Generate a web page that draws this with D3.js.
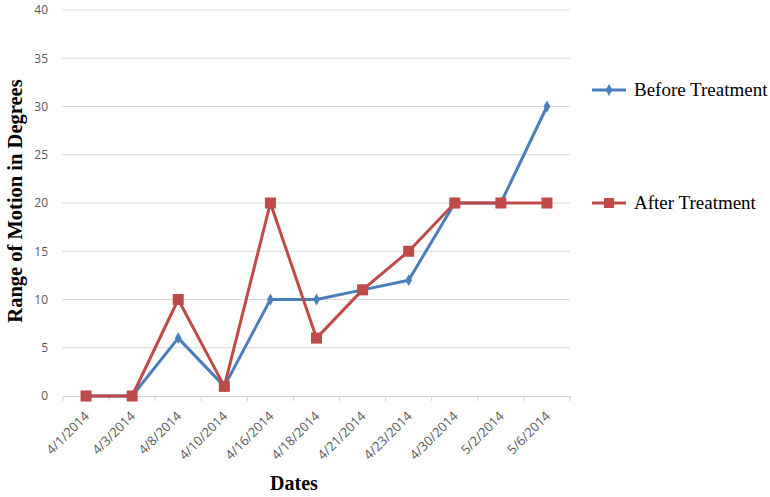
<!DOCTYPE html>
<html><head><meta charset="utf-8">
<script src="https://cdn.jsdelivr.net/npm/d3@7"></script>
<style>body{margin:0;background:#fff}</style>
</head><body>
<svg id="c" width="770" height="497"></svg>
<script>
const categories = ["4/1/2014","4/3/2014","4/8/2014","4/10/2014","4/16/2014","4/18/2014","4/21/2014","4/23/2014","4/30/2014","5/2/2014","5/6/2014"];
const beforeValues = [0,0,6,1,10,10,11,12,20,20,30];
const afterValues = [0,0,10,1,20,6,11,15,20,20,20];
const yTicks = [0,5,10,15,20,25,30,35,40];
const seriesNames = ["Before Treatment","After Treatment"];

const svg = d3.select("#c");
const pLeft = 63, pRight = 570, pTop = 10, pBottom = 396;
const x = d3.scaleBand().domain(categories).range([pLeft, pRight]);
const y = d3.scaleLinear().domain([0, 40]).range([pBottom, pTop]);
const blue = "#4a7ebb", red = "#be4b48";

// gridlines
svg.append("g").selectAll("line").data(yTicks.filter(d => d > 0)).join("line")
  .attr("x1", pLeft - 1).attr("x2", pRight).attr("y1", d => y(d)).attr("y2", d => y(d))
  .attr("stroke", "#d9d9d9").attr("stroke-width", 1);

// y axis labels
const yAxis = d3.axisLeft(y).tickValues(yTicks).tickSize(0).tickPadding(0);
const gy = svg.append("g").attr("transform", `translate(${pLeft - 15},0)`).call(yAxis);
gy.select(".domain").remove();
gy.selectAll("text").attr("fill", "#595959").attr("font-family", "Open Sans, Liberation Sans, sans-serif").attr("font-size", 12);

// x axis
const xAxis = d3.axisBottom(x).tickSize(0).tickFormat("");
const gx = svg.append("g").attr("transform", `translate(0,${pBottom})`).call(xAxis);
gx.select(".domain").attr("stroke", "#d0d0d0");
gx.selectAll(".tick").remove();
const bounds = categories.map(c => x(c)).concat([pRight]);
svg.append("g").selectAll("line").data(bounds).join("line")
  .attr("x1", d => d).attr("x2", d => d).attr("y1", pBottom).attr("y2", pBottom + 5)
  .attr("stroke", "#d0d0d0");
svg.append("g").selectAll("text").data(categories).join("text")
  .attr("transform", d => `translate(${x(d) + x.bandwidth()/2 + 4},${pBottom + 21}) rotate(-45)`)
  .attr("text-anchor", "end")
  .attr("fill", "#595959").attr("font-family", "Open Sans, Liberation Sans, sans-serif").attr("font-size", 13)
  .text(d => d);

// lines
const cx = d => x(d) + x.bandwidth()/2;
const line = d3.line().x((d, i) => cx(categories[i])).y(d => y(d));
svg.append("path").datum(beforeValues).attr("d", line).attr("fill", "none").attr("stroke", blue).attr("stroke-width", 3).attr("stroke-linejoin", "round");
svg.append("path").datum(afterValues).attr("d", line).attr("fill", "none").attr("stroke", red).attr("stroke-width", 3).attr("stroke-linejoin", "round");

const diamond = d3.symbol().type(d3.symbolDiamond).size(40);
svg.append("g").selectAll("path").data(beforeValues).join("path")
  .attr("d", diamond).attr("transform", (d, i) => `translate(${cx(categories[i])},${y(d)})`)
  .attr("fill", blue);
svg.append("g").selectAll("rect").data(afterValues).join("rect")
  .attr("x", (d, i) => cx(categories[i]) - 5.5).attr("y", d => y(d) - 5.5)
  .attr("width", 11).attr("height", 11).attr("fill", red);

// titles
svg.append("text").attr("transform", "translate(22,201) rotate(-90)").attr("text-anchor", "middle")
  .attr("font-family", "Liberation Serif, Times New Roman, serif").attr("font-weight", "bold").attr("font-size", 20.5)
  .text("Range of Motion in Degrees");
svg.append("text").attr("x", 294).attr("y", 490).attr("text-anchor", "middle")
  .attr("font-family", "Liberation Serif, Times New Roman, serif").attr("font-weight", "bold").attr("font-size", 20)
  .text("Dates");

// legend
const legY = [90, 203];
const legColors = [blue, red];
seriesNames.forEach((name, i) => {
  const g = svg.append("g");
  g.append("line").attr("x1", 592).attr("x2", 626).attr("y1", legY[i]).attr("y2", legY[i]).attr("stroke", legColors[i]).attr("stroke-width", 3);
  if (i === 0) g.append("path").attr("d", diamond).attr("transform", `translate(609,${legY[i]})`).attr("fill", blue);
  else g.append("rect").attr("x", 604).attr("y", legY[i] - 5).attr("width", 10).attr("height", 10).attr("fill", red);
  g.append("text").attr("x", 634).attr("y", legY[i] + 6).attr("font-family", "Liberation Serif, Times New Roman, serif").attr("font-size", 19).attr("fill", "#000").text(name);
});
</script>
</body></html>
